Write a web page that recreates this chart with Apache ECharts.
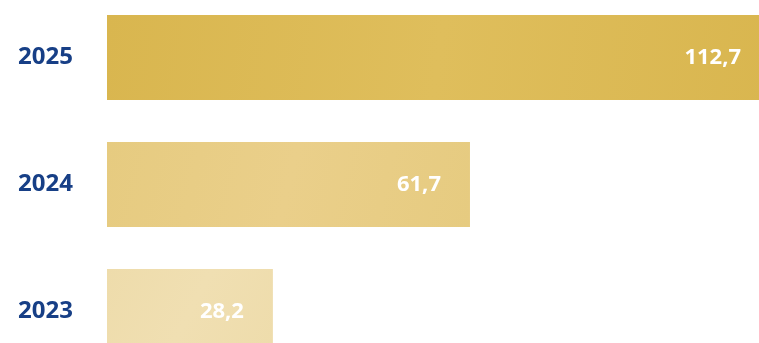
<!DOCTYPE html>
<html>
<head>
<meta charset="utf-8">
<script src="https://cdn.jsdelivr.net/npm/echarts@6/dist/echarts.min.js"></script>
<style>
html,body{margin:0;padding:0;background:#ffffff;}
#chart{width:759px;height:343px;}
</style>
</head>
<body>
<div id="chart"></div>
<script>
var categories = ['2025', '2024', '2023'];
var values = [112.7, 61.7, 28.2];
var barColors = ['#d9b64f', '#e6cb80', '#eedcab'];
var barColorsLight = ['#dfbe5c', '#eacf8a', '#f0dfb2'];

var chart = echarts.init(document.getElementById('chart'), null, {renderer: 'canvas'});

var seriesData = values.map(function (v, i) {
  return {
    value: v,
    itemStyle: {
      color: new echarts.graphic.LinearGradient(0, 0, 1, 1, [
        {offset: 0, color: barColors[i]},
        {offset: 0.5, color: barColorsLight[i]},
        {offset: 1, color: barColors[i]}
      ])
    }
  };
});

chart.setOption({
  animation: false,
  backgroundColor: '#ffffff',
  grid: {left: 107, right: -11, top: -6, bottom: -32, containLabel: false, outerBoundsMode: 'none'},
  xAxis: {
    type: 'value',
    min: 0,
    max: 112.7,
    show: false
  },
  yAxis: {
    type: 'category',
    data: categories,
    inverse: true,
    axisLine: {show: false},
    axisTick: {show: false},
    splitLine: {show: false},
    axisLabel: {
      margin: 34,
      color: '#173f86',
      fontFamily: 'Open Sans',
      fontWeight: 'bold',
      fontSize: 24
    }
  },
  series: [{
    type: 'bar',
    data: seriesData,
    barWidth: 85,
    clip: false,
    label: {
      show: true,
      position: 'insideRight',
      distance: 29,
      color: '#ffffff',
      fontFamily: 'Open Sans',
      fontWeight: 'bold',
      fontSize: 22,
      formatter: function (p) { return String(p.value).replace('.', ','); }
    }
  }]
});
</script>
</body>
</html>
